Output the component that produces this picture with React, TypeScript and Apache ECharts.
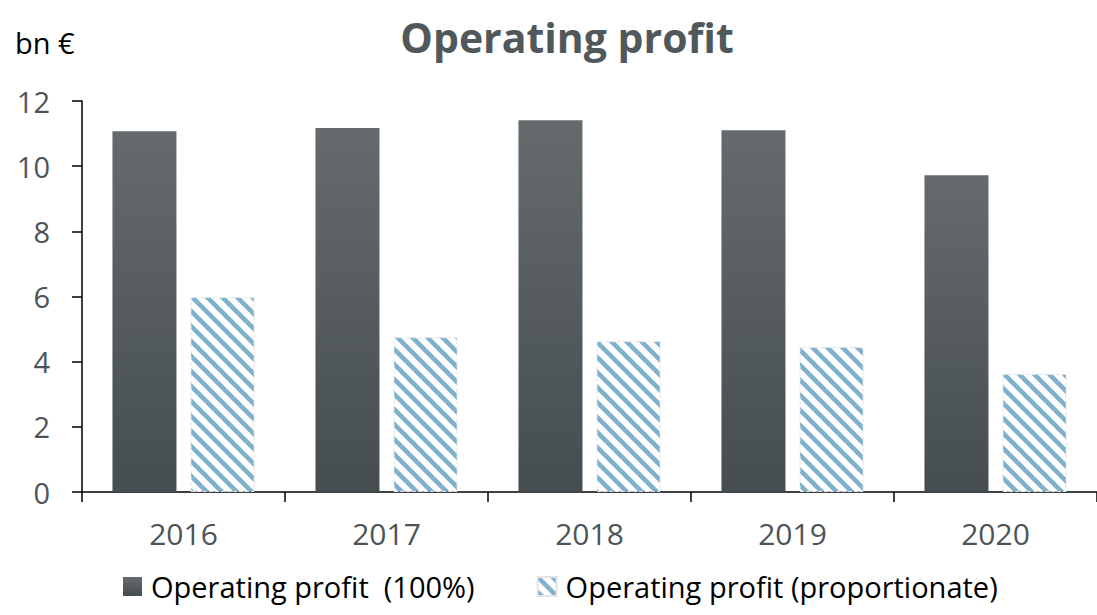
import React, { useEffect, useRef } from "react";
import * as echarts from "echarts";

const categories = ["2016", "2017", "2018", "2019", "2020"];
const profitFull = [11.07, 11.17, 11.41, 11.1, 9.72];
const profitProportionate = [5.98, 4.75, 4.63, 4.45, 3.62];
const seriesNames = ["Operating profit  (100%)", "Operating profit (proportionate)"];
const yTicks = { min: 0, max: 12, interval: 2 };

function makeHatch(): HTMLCanvasElement {
  const s = 15;
  const c = document.createElement("canvas");
  c.width = s;
  c.height = s;
  const ctx = c.getContext("2d")!;
  ctx.fillStyle = "#ffffff";
  ctx.fillRect(0, 0, s, s);
  ctx.strokeStyle = "#7fb1cc";
  ctx.lineWidth = 4.5;
  ctx.beginPath();
  ctx.moveTo(-s, -s);
  ctx.lineTo(2 * s, 2 * s);
  ctx.moveTo(0, -s);
  ctx.lineTo(2 * s, s);
  ctx.moveTo(-s, 0);
  ctx.lineTo(s, 2 * s);
  ctx.stroke();
  return c;
}

export default function App() {
  const ref = useRef<HTMLDivElement>(null);
  useEffect(() => {
    document.body.style.margin = "0";
    const chart = echarts.init(ref.current!, null, { renderer: "svg" });
    const hatch = makeHatch();
    const font = "'Open Sans', 'Noto Sans', sans-serif";
    chart.setOption({
      animation: false,
      graphic: [
        {
          type: "text",
          x: 567,
          y: 37,
          style: {
            text: "Operating profit",
            fontFamily: font,
            fontSize: 41,
            fontWeight: "bold",
            fill: "#51585c",
            textAlign: "center",
            textVerticalAlign: "middle",
          },
        },
        {
          type: "text",
          x: 15,
          y: 42,
          style: {
            text: "bn €",
            fontFamily: font,
            fontSize: 29,
            fill: "#000",
            textAlign: "left",
            textVerticalAlign: "middle",
          },
        },
      ],
      legend: {
        top: 567,
        left: 118,
        icon: "rect",
        itemWidth: 19,
        itemHeight: 19,
        itemGap: 62,
        textStyle: { fontFamily: font, fontSize: 29, color: "#000", padding: [0, 0, 0, 4] },
        data: seriesNames,
      },
      grid: { left: 82, right: 0, top: 101, bottom: 123, containLabel: false },
      xAxis: {
        type: "category",
        data: categories,
        axisLine: { lineStyle: { color: "#000", width: 1.5 } },
        axisTick: { show: true, length: 10, lineStyle: { color: "#000", width: 1.5 } },
        axisLabel: { fontFamily: font, fontSize: 30, color: "#4d5458", margin: 26 },
      },
      yAxis: {
        type: "value",
        min: yTicks.min,
        max: yTicks.max,
        interval: yTicks.interval,
        splitLine: { show: false },
        axisLine: { show: true, lineStyle: { color: "#000", width: 1.5 } },
        axisTick: { show: true, length: 10, lineStyle: { color: "#000", width: 1.5 } },
        axisLabel: { fontFamily: font, fontSize: 29, color: "#4d5458", margin: 32 },
      },
      series: [
        {
          name: seriesNames[0],
          type: "bar",
          data: profitFull,
          barWidth: 64,
          barGap: "22%",
          itemStyle: {
            color: new echarts.graphic.LinearGradient(0, 0, 0, 1, [
              { offset: 0, color: "#656a6d" },
              { offset: 1, color: "#454d51" },
            ]),
          },
        },
        {
          name: seriesNames[1],
          type: "bar",
          data: profitProportionate,
          barWidth: 64,
          itemStyle: {
            color: { image: hatch, repeat: "repeat" },
            borderColor: "#e4e4e4",
            borderWidth: 1,
            borderType: "dashed",
          },
        },
      ],
    });
    return () => chart.dispose();
  }, []);
  return <div ref={ref} style={{ width: 1097, height: 615 }} />;
}
